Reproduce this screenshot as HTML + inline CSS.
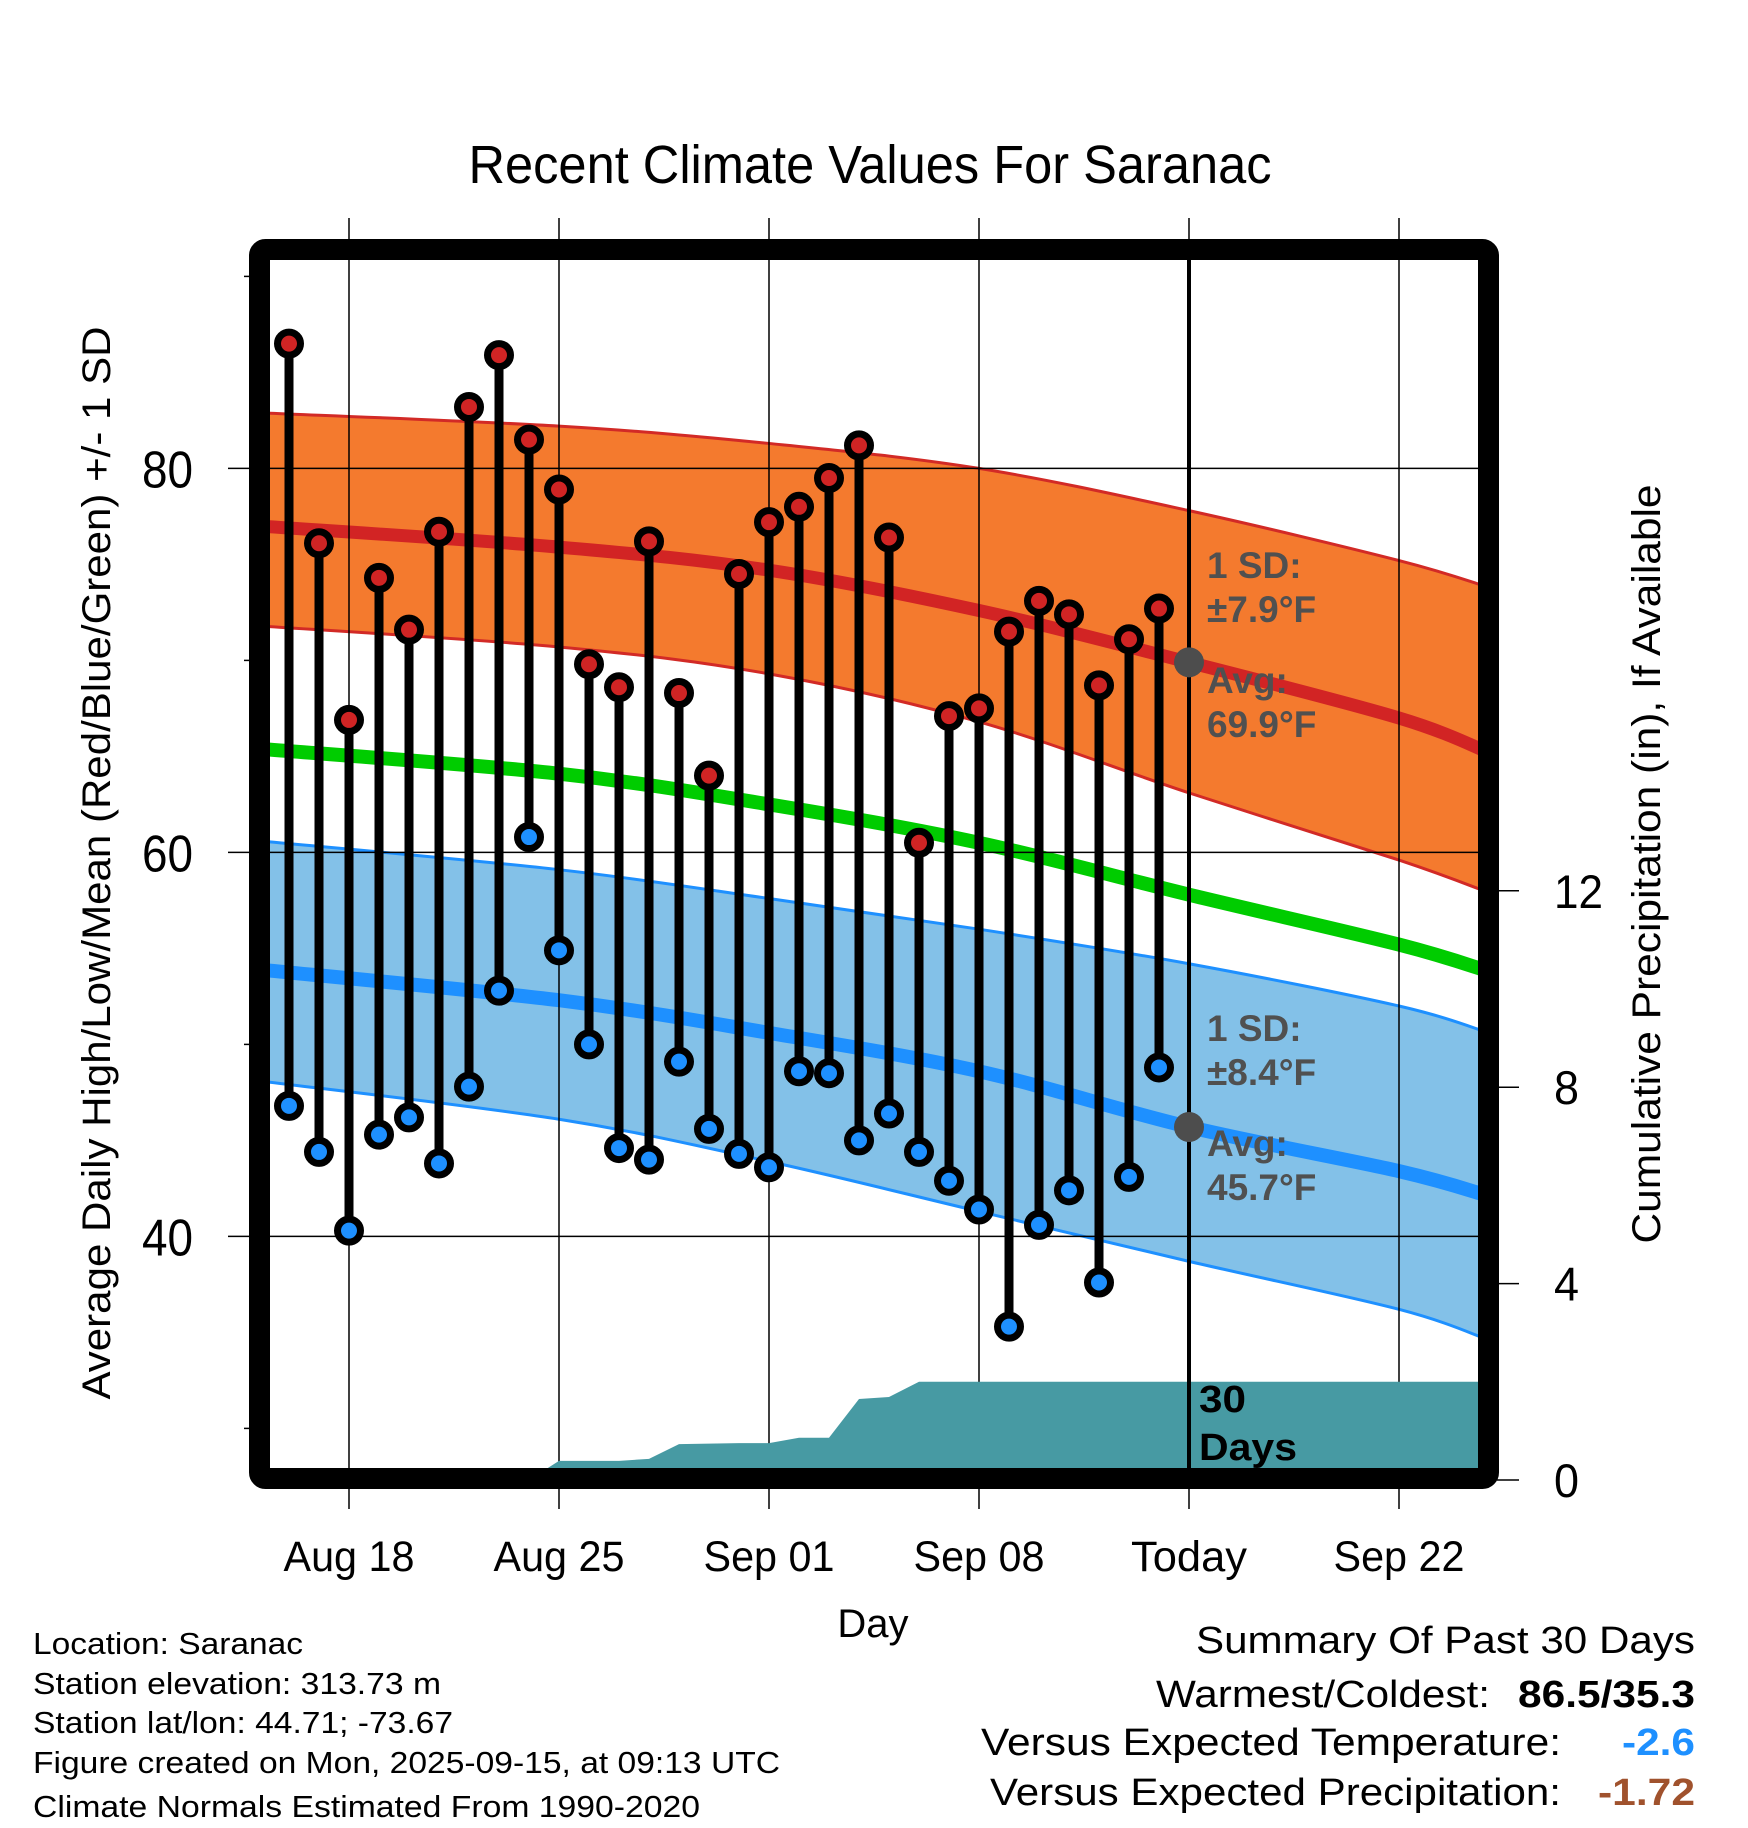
<!DOCTYPE html>
<html><head><meta charset="utf-8"><style>
html,body{margin:0;padding:0;background:#fff;}
svg{display:block;font-family:"Liberation Sans",Arial,sans-serif;}
</style></head><body>
<svg id="chart" width="1748" height="1828" viewBox="0 0 1748 1828" xmlns="http://www.w3.org/2000/svg">
<defs><clipPath id="plotclip"><rect x="270" y="260" width="1208" height="1208"/></clipPath></defs>
<rect x="0" y="0" width="1748" height="1828" fill="#fff"/>
<text x="870" y="183" font-size="54" text-anchor="middle" textLength="803" lengthAdjust="spacingAndGlyphs">Recent Climate Values For Saranac</text>
<g id="bands" clip-path="url(#plotclip)"></g>
<g id="grid"></g>
<g id="precip" clip-path="url(#plotclip)"></g>
<g id="marks"></g>
<g id="annot" font-weight="bold" fill="#505050" font-size="37">
<text x="1207" y="578">1 SD:</text>
<text x="1207" y="622">±7.9°F</text>
<text x="1207" y="693">Avg:</text>
<text x="1207" y="737">69.9°F</text>
<text x="1207" y="1041">1 SD:</text>
<text x="1207" y="1085">±8.4°F</text>
<text x="1207" y="1156">Avg:</text>
<text x="1207" y="1200">45.7°F</text>
</g>
<text x="1199" y="1412" font-size="38" font-weight="bold" textLength="47" lengthAdjust="spacingAndGlyphs">30</text>
<text x="1199" y="1460" font-size="38" font-weight="bold" textLength="98" lengthAdjust="spacingAndGlyphs">Days</text>
<rect x="259.5" y="249.5" width="1229" height="1229" rx="6" fill="none" stroke="#000" stroke-width="21"/>
<g id="axes"></g>
<text x="873" y="1637" font-size="40" text-anchor="middle">Day</text>
<text transform="translate(110,863) rotate(-90)" font-size="40" text-anchor="middle" textLength="1073" lengthAdjust="spacingAndGlyphs">Average Daily High/Low/Mean (Red/Blue/Green) +/- 1 SD</text>
<text transform="translate(1660,864) rotate(-90)" font-size="40" text-anchor="middle" textLength="759" lengthAdjust="spacingAndGlyphs">Cumulative Precipitation (in), If Available</text>
<g font-size="31">
<text x="33" y="1654" textLength="270" lengthAdjust="spacingAndGlyphs">Location: Saranac</text>
<text x="33" y="1694" textLength="408" lengthAdjust="spacingAndGlyphs">Station elevation: 313.73 m</text>
<text x="33" y="1733" textLength="420" lengthAdjust="spacingAndGlyphs">Station lat/lon: 44.71; -73.67</text>
<text x="33" y="1773" textLength="747" lengthAdjust="spacingAndGlyphs">Figure created on Mon, 2025-09-15, at 09:13 UTC</text>
<text x="33" y="1817" textLength="667" lengthAdjust="spacingAndGlyphs">Climate Normals Estimated From 1990-2020</text>
</g>
<g font-size="38">
<text x="1695" y="1653" text-anchor="end" textLength="499" lengthAdjust="spacingAndGlyphs">Summary Of Past 30 Days</text>
<text x="1156" y="1707" textLength="334" lengthAdjust="spacingAndGlyphs">Warmest/Coldest:</text>
<text x="1695" y="1707" text-anchor="end" font-weight="bold" textLength="177" lengthAdjust="spacingAndGlyphs">86.5/35.3</text>
<text x="981" y="1755" textLength="580" lengthAdjust="spacingAndGlyphs">Versus Expected Temperature:</text>
<text x="1695" y="1755" text-anchor="end" font-weight="bold" fill="#1e90ff" textLength="73" lengthAdjust="spacingAndGlyphs">-2.6</text>
<text x="990" y="1805" textLength="571" lengthAdjust="spacingAndGlyphs">Versus Expected Precipitation:</text>
<text x="1695" y="1805" text-anchor="end" font-weight="bold" fill="#a0522d" textLength="97" lengthAdjust="spacingAndGlyphs">-1.72</text>
</g>
</svg>
<script>
// data: day offsets relative to Aug 18
const obsDays = [-2,-1,0,1,2,3,4,5,6,7,8,9,10,11,12,13,14,15,16,17,18,19,20,21,22,23,24,25,26,27];
const highs = [86.5,76.1,66.9,74.3,71.6,76.7,83.2,85.9,81.5,78.9,69.8,68.6,76.2,68.3,64.0,74.5,77.2,78.0,79.5,81.2,76.4,60.5,67.1,67.5,71.5,73.1,72.4,68.7,71.1,72.7];
const lows = [46.8,44.4,40.3,45.3,46.2,43.8,47.8,52.8,60.8,54.9,50.0,44.6,44.0,49.1,45.6,44.3,43.6,48.6,48.5,45.0,46.4,44.4,42.9,41.4,35.3,40.6,42.4,37.6,43.1,48.8];
const precipCum = [0,0,0,0,0,0,0,0,0,0.39,0.39,0.39,0.43,0.73,0.74,0.75,0.75,0.86,0.86,1.65,1.69,2.0,2.0,2.0,2.0,2.0,2.0,2.0,2.0,2.0];
const normDays = [-3,7,14,21,28,35,38];
const normHighMean = [77.0,75.9,74.7,72.6,69.9,67.0,65.2];
const normHighUpper = [82.9,82.2,81.3,80.0,77.8,75.2,73.8];
const normHighLower = [71.8,70.7,69.3,66.8,63.1,59.6,57.9];
const normMean = [65.4,64.1,62.5,60.5,57.8,55.2,53.8];
const normLowMean = [53.9,52.3,50.6,48.6,45.7,43.4,42.1];
const normLowUpper = [60.6,59.1,57.6,56.0,54.2,52.0,50.6];
const normLowLower = [48.1,46.1,43.9,41.3,38.7,36.2,34.6];
const xTickDays = [0,7,14,21,28,35];
const xTickLabels = ["Aug 18","Aug 25","Sep 01","Sep 08","Today","Sep 22"];
const yTickValues = [40,60,80];
const yMinorValues = [30,50,70,90];
const pTickValues = [0,4,8,12];
const todayDay = 28;
const todayHighAvg = 69.9, todayLowAvg = 45.7;

const NS="http://www.w3.org/2000/svg";
const xS = d => 349 + d*30;
const yS = t => 468.4 + (80 - t)*19.2;
const pS = p => 1480 - p*49.1;
function mk(tag, attrs, parent){const e=document.createElementNS(NS,tag);for(const k in attrs)e.setAttribute(k,attrs[k]);parent.appendChild(e);return e;}
const bands=document.getElementById('bands'), grid=document.getElementById('grid'), precip=document.getElementById('precip'), marks=document.getElementById('marks'), axes=document.getElementById('axes');
function smooth(pts, start){
  let s = start ? 'M'+pts[0][0]+','+pts[0][1] : 'L'+pts[0][0]+','+pts[0][1];
  for(let i=0;i<pts.length-1;i++){
    const p0=pts[Math.max(0,i-1)], p1=pts[i], p2=pts[i+1], p3=pts[Math.min(pts.length-1,i+2)];
    const c1x=p1[0]+(p2[0]-p0[0])/6, c1y=p1[1]+(p2[1]-p0[1])/6;
    const c2x=p2[0]-(p3[0]-p1[0])/6, c2y=p2[1]-(p3[1]-p1[1])/6;
    s+='C'+c1x+','+c1y+' '+c2x+','+c2y+' '+p2[0]+','+p2[1];
  }
  return s;
}
function pts(arr){return normDays.map((d,i)=>[xS(d),yS(arr[i])]);}
function line(arr){return smooth(pts(arr),true);}
function band(up,lo){return smooth(pts(up),true)+smooth(pts(lo).reverse(),false)+'Z';}
let e;
e=mk('path',{d:band(normHighUpper,normHighLower),fill:'#f47a2e'},bands);


e=mk('path',{d:band(normLowUpper,normLowLower),fill:'#83c1e8'},bands);


[[normHighUpper,'#d22a26',3,'high-upper-line'],[normHighLower,'#d22a26',3,'high-lower-line'],[normLowUpper,'#1e90ff',3,'low-upper-line'],[normLowLower,'#1e90ff',3,'low-lower-line'],[normHighMean,'#d22424',13,'high-mean-line'],[normMean,'#00cc00',14,'mean-line'],[normLowMean,'#1e90ff',14,'low-mean-line']].forEach(a=>{
  e=mk('path',{d:line(a[0]),fill:'none',stroke:a[1],'stroke-width':a[2]},bands);
  
  
});
xTickDays.forEach((d,i)=>{
  e=mk('line',{x1:xS(d),x2:xS(d),y1:218,y2:1509,stroke:'#000','stroke-width':1.5},grid);
  
  
  e=mk('text',{x:xS(d),y:1571,'font-size':43,'text-anchor':'middle',textLength:(xTickLabels[i]==='Today'?116:131),lengthAdjust:'spacingAndGlyphs'},axes);
  e.textContent=xTickLabels[i];
  
  
});
yTickValues.forEach(v=>{
  e=mk('line',{x1:228,x2:1478,y1:yS(v),y2:yS(v),stroke:'#000','stroke-width':1.5},grid);
  
  
  e=mk('text',{x:193,y:yS(v)+19,'font-size':52,'text-anchor':'end',textLength:51,lengthAdjust:'spacingAndGlyphs'},axes);
  e.textContent=String(v);
  
  
});
yMinorValues.forEach(v=>{
  e=mk('line',{x1:244,x2:252,y1:yS(v),y2:yS(v),stroke:'#000','stroke-width':1.5},axes);
  
  
});
pTickValues.forEach(v=>{
  e=mk('line',{x1:1497,x2:1519,y1:pS(v),y2:pS(v),stroke:'#000','stroke-width':1.5},axes);
  
  
  const lbl=String(v);
  e=mk('text',{x:1554,y:pS(v)+17,'font-size':47,textLength:(lbl.length>1?49:25),lengthAdjust:'spacingAndGlyphs'},axes);
  e.textContent=lbl;
  
  
});
let pd='M260,'+pS(0);
obsDays.forEach((d,i)=>{pd+='L'+xS(d)+','+pS(precipCum[i]);});
pd+='L1490,'+pS(precipCum[precipCum.length-1])+'L1490,'+pS(0)+'Z';
e=mk('path',{d:pd,fill:'#479aa3'},precip);


e=mk('line',{x1:xS(todayDay),x2:xS(todayDay),y1:260,y2:1468,stroke:'#000','stroke-width':4},marks);


obsDays.forEach((d,i)=>{
  e=mk('line',{x1:xS(d),x2:xS(d),y1:yS(highs[i]),y2:yS(lows[i]),stroke:'#000','stroke-width':9},marks);
  
  
});
obsDays.forEach((d,i)=>{
  e=mk('circle',{cx:xS(d),cy:yS(highs[i]),r:11.5,fill:'#d02424',stroke:'#000','stroke-width':7},marks);
  
  
  e=mk('circle',{cx:xS(d),cy:yS(lows[i]),r:11.5,fill:'#1e90ff',stroke:'#000','stroke-width':7},marks);
  
  
});
e=mk('ellipse',{cx:xS(todayDay),cy:yS(todayHighAvg),rx:15,ry:15,fill:'#4d4d4d'},marks);


e=mk('ellipse',{cx:xS(todayDay),cy:yS(todayLowAvg),rx:15,ry:15,fill:'#4d4d4d'},marks);


</script>
</body></html>
